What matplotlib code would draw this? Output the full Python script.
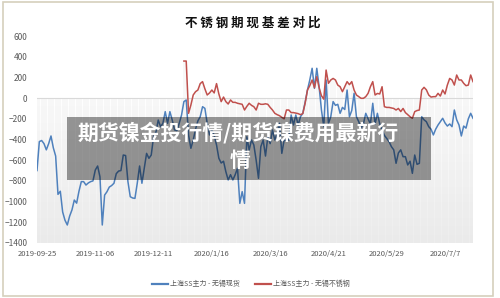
import numpy as np
import matplotlib
matplotlib.use("Agg")
import matplotlib.pyplot as plt
from matplotlib.colors import LinearSegmentedColormap
from matplotlib.lines import Line2D
from matplotlib.patches import Rectangle

plt.rcParams['font.family'] = ['Noto Sans CJK SC', 'DejaVu Sans']

# values, one per trading day
spot_basis = [
    -700, -420, -410, -440, -500, -440, -366, -480, -560, -930,
    -900, -1100, -1180, -1226, -1140, -1080, -985, -1015, -900, -807,
    -807, -840, -820, -807, -800, -695, -656, -760, -1226, -937,
    -905, -860, -845, -823, -730, -705, -700, -550, -555, -807,
    -953, -965, -969, -823, -656, -823, -678, -534, -582, -550,
    -373, -330, -212, -276, -244, -131, -244, -131, -212, -308,
    -315, -244, -163, -34, -18, -356, -485, -405, -300, -220,
    -180, -83, -99, -244, -356, -308, -360, -453, -582, -627,
    -610, -711, -791, -740, -791, -740, -678, -1017, -904, -1017,
    -373, -502, -405, -453, -600, -775, -469, -405, -560, -373,
    -440, -308, -405, -340, -244, -534, -405, -410, -405, -163,
    -260, -163, -260, -180, -147, -40, 78, 175, 288, 94,
    288, 110, -115, -276, 175, -244, -180, -34, -70, -60,
    -147, -90, -110, 78, -180, -120, 46, -180, -228, -290,
    -250, -147, -200, -250, -50, -250, -147, -250, -308, -360,
    -390, -420, -469, -500, -630, -530, -500, -566, -566, -646,
    -610, -727, -550, -640, -630, -180, -210, -228, -276, -300,
    -356, -300, -260, -228, -195, -240, -270, -250, -276, -115,
    -210, -260, -366, -270, -290, -200, -147, -195,
]

ss_basis = [np.nan] * 63 + [
    358, 358, -147, -67, 30, 62, 78, 140, 159, 90,
    30, 50, 78, 50, 140, 40, -34, 10, -34, -57,
    -18, -41, -41, -50, -55, -60, -115, -80, -50, -70,
    -83, -115, -50, -60, -60, -55, -60, -90, -115, -147,
    -160, -170, -186, -200, -115, -115, -140, -140, -145, -150,
    -160, -150, -50, 78, 120, 175, 100, 207, 100, 23,
    -10, 271, 143, 175, 190, 175, 126, 110, 62, 110,
    159, 130, 159, 78, 30, 14, -2, -2, 14, 46,
    110, 159, 30, 45, 40, 110, -83, -90, -90, -95,
    -100, -115, -100, -130, -100, -140, -160, -180, -195, -131,
    -120, -115, 78, 104, 80, 30, 10, 14, 14, 46,
    20, 78, 40, 126, 190, 175, 126, 223, 175, 175,
    143, 120, 126, 223, 159,
]

date_labels = ['2019-09-25', '2019-11-06', '2019-12-11', '2020/1/16',
               '2020/3/16', '2020/4/21', '2020/5/29', '2020/7/7']
label_step = 25
series_names = ['上海SS主力 - 无锡现货', '上海SS主力 - 无锡不锈钢']

blue = '#4f81bd'
red = '#c0504d'
grey = '#595959'

spot_basis = np.array(spot_basis, dtype=float)
ss_basis = np.array(ss_basis, dtype=float)
idx = np.arange(len(spot_basis))
last = idx[-1]

fig = plt.figure(figsize=(5, 2.98), dpi=100)
ax = fig.add_axes([37 / 500, 1 - 243 / 298, 436 / 500, 207 / 298])

# grey gradient below zero, like the excel plot area
cmap = LinearSegmentedColormap.from_list('fade', ['#ffffff', '#ededed'])
ax.imshow(np.linspace(0, 1, 200).reshape(-1, 1), cmap=cmap, aspect='auto',
          extent=[0, last, -1400, 0], zorder=0)
tops = np.where(np.isnan(ss_basis), 0, np.maximum(ss_basis, 0))
ax.vlines(idx, -1400, tops, color='#e4e4e4', lw=0.35, zorder=1)
ax.axhline(0, color='#d9d9d9', lw=0.8, zorder=1)

ax.plot(idx, spot_basis, color=blue, lw=1.1, zorder=3)
ax.plot(idx, ss_basis, color=red, lw=1.1, zorder=3)

ax.set_xlim(0, last)
ax.set_ylim(-1400, 600)
ax.set_yticks(np.arange(-1400, 601, 200))
ax.set_xticks(np.arange(len(date_labels)) * label_step)
ax.set_xticklabels(date_labels)
ax.tick_params(axis='y', length=0, pad=7, labelsize=6, labelcolor=grey)
ax.tick_params(axis='x', length=0, pad=5, labelsize=5.5, labelcolor=grey)
for s in ax.spines.values():
    s.set_visible(False)
ax.set_facecolor('none')

fig.text(0.506, 1 - 23 / 298, ' '.join('不锈钢期现基差对比'), ha='center', va='center',
         fontsize=9, fontweight='bold', color='#111111')

handles = [Line2D([], [], color=blue, lw=1.6), Line2D([], [], color=red, lw=1.6)]
fig.legend(handles, series_names, loc='center', bbox_to_anchor=(0.502, 1 - 284 / 298),
           ncol=2, frameon=False, fontsize=5, labelcolor=grey, handlelength=2.3,
           handletextpad=0.3, columnspacing=2.2)

# outer frame
fig.patches.append(Rectangle((3 / 500, 2 / 298), 490 / 500, 294 / 298,
                             transform=fig.transFigure, fill=False,
                             edgecolor='#d6d0bc', lw=1.2))

# watermark banner
fig.patches.append(Rectangle((67 / 500, 1 - 180 / 298), 364 / 500, 63 / 298,
                             transform=fig.transFigure, facecolor='black',
                             alpha=0.4, edgecolor='none', zorder=5))
fig.text(238.5 / 500, 1 - 133 / 298, '期货镍金投行情/期货镍费用最新行', ha='center',
         va='center', fontsize=15, fontweight='bold', color='white', zorder=6)
fig.text(240 / 500, 1 - 160 / 298, '情', ha='center', va='center',
         fontsize=15, fontweight='bold', color='white', zorder=6)

fig.savefig('out.png', dpi=100, facecolor='white')
